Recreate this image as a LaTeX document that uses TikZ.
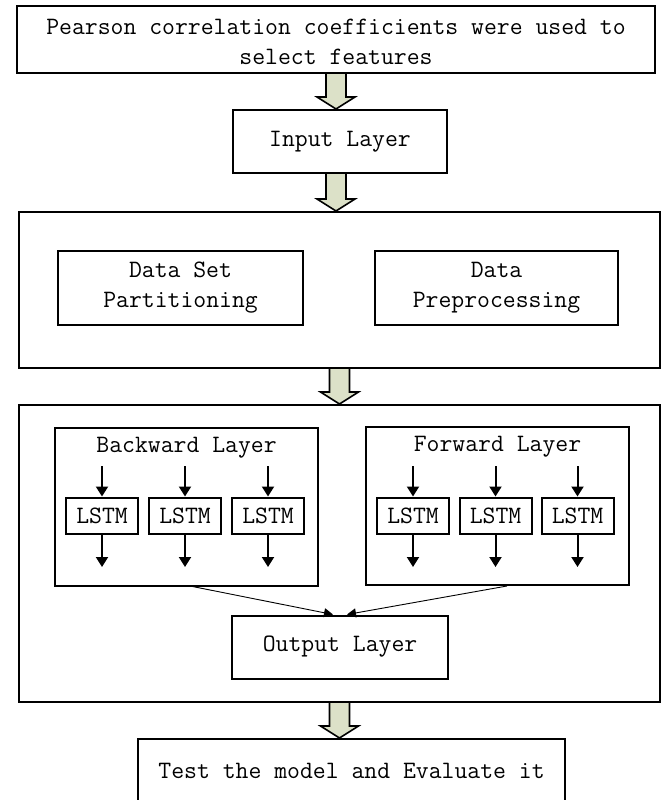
\documentclass[tikz,border=0pt]{standalone}
\usepackage{fontspec}
\usetikzlibrary{arrows.meta,calc}
\definecolor{arrowfill}{HTML}{DCE1C8}
\newcommand\blockarrow[2]{%
  \draw[line width=1.6pt, fill=arrowfill, line join=miter]
    let \p1=(#1), \p2=(#2) in
    (\x1-10pt,\y1) -- (\x1-10pt,\y2+12pt) -- (\x1-19pt,\y2+12pt) -- (\x1,\y2)
    -- (\x1+19pt,\y2+12pt) -- (\x1+10pt,\y2+12pt) -- (\x1+10pt,\y1);}
\begin{document}
\begin{tikzpicture}[x=1pt,y=-1pt,
  txt/.style={font=\ttfamily\fontsize{25}{30}\selectfont, align=center, inner sep=0pt},
  box/.style={txt, draw, line width=2pt},
  lstm/.style={box, minimum width=72pt, minimum height=36pt},
  small/.style={line width=2pt, -{Triangle[length=10pt,width=12pt]}},
  thin/.style={line width=0.9pt, -{Triangle[length=9pt,width=9pt]}}]
\useasboundingbox (0,0) rectangle (666,800);

\node[box, minimum width=638pt, minimum height=67pt] (top) at (336,39.5) {};
\node[txt] (toptxt) at (336,42) {Pearson correlation coefficients were used to\\select features};
\node[box, minimum width=214pt, minimum height=63pt] (input) at (340,141.5) {Input Layer};

\node[box, minimum width=641pt, minimum height=156pt] (pre) at (339.5,290) {};
\node[box, minimum width=245pt, minimum height=74pt] (dsp) at (180.5,288) {Data Set\\Partitioning};
\node[box, minimum width=243pt, minimum height=74pt] (dp) at (496.5,288) {Data\\Preprocessing};

\node[box, minimum width=641pt, minimum height=297pt] (model) at (339.5,553.5) {};
\node[box, minimum width=263pt, minimum height=158pt] (bw) at (186.5,507) {};
\node[txt] (bwt) at (186.5,448) {Backward Layer};
\node[box, minimum width=263pt, minimum height=158pt] (fw) at (497.5,506) {};
\node[txt] (fwt) at (497.5,447) {Forward Layer};

\foreach \n/\x in {b1/102,b2/185,b3/268,f1/413,f2/495.5,f3/577.5}{
  \node[lstm] (\n) at (\x,515.5) {LSTM};
  \coordinate (\n in) at (\x,466);
  \coordinate (\n out) at (\x,567);
  \draw[small] (\n in) -- (\n.north);
  \draw[small] (\n.south) -- (\n out);
}

\node[box, minimum width=216pt, minimum height=63pt] (out) at (340,647) {Output Layer};
\coordinate (bws) at (190,586);
\coordinate (fws) at (507,586);
\coordinate (o1) at ($(out.north)+(-7,0)$);
\coordinate (o2) at ($(out.north)+(7,0)$);
\draw[thin] (bws) -- (o1);
\draw[thin] (fws) -- (o2);

\node[box, minimum width=427pt, minimum height=64pt] (test) at (351.5,771) {Test the model and Evaluate it};

\blockarrow{top.south}{input.north -| top.south}
\blockarrow{input.south -| top.south}{pre.north -| top.south}
\blockarrow{pre.south}{model.north}
\blockarrow{model.south}{test.north -| model.south}
\end{tikzpicture}
\end{document}
